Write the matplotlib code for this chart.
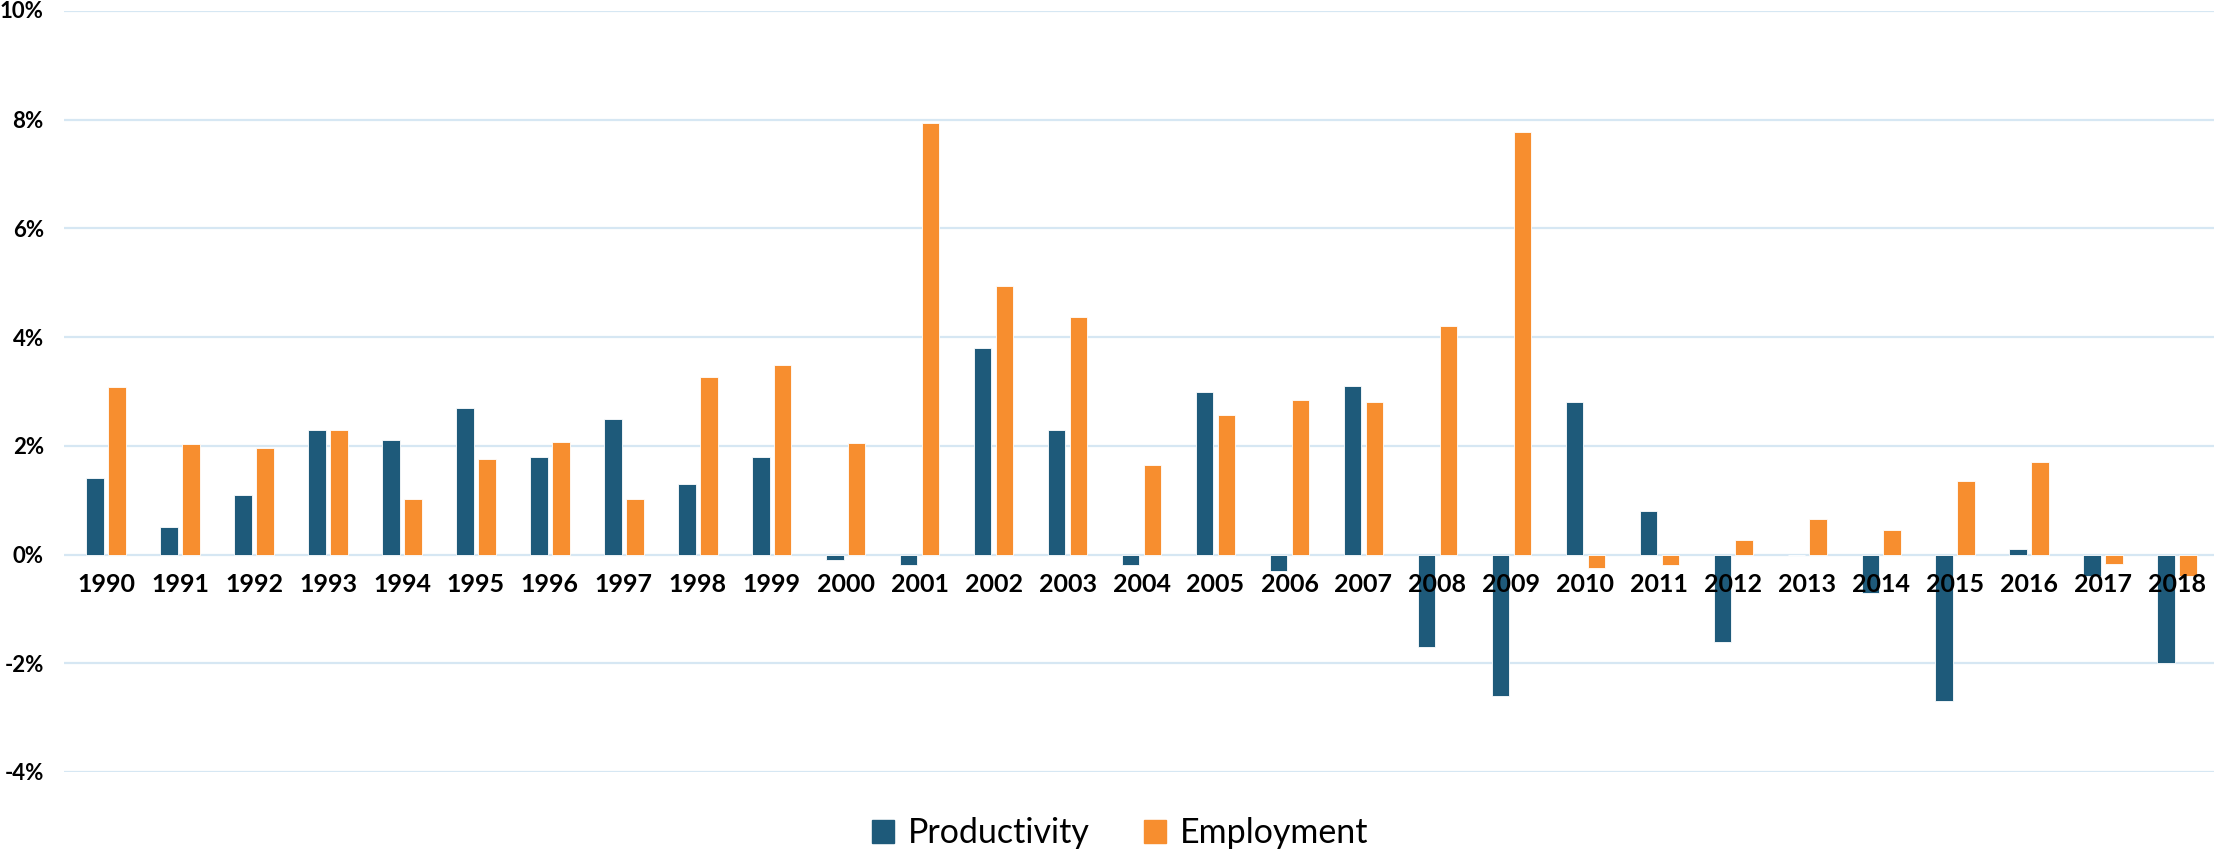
import matplotlib
matplotlib.use("Agg")
import matplotlib.pyplot as plt
import matplotlib.transforms as mtrans
import numpy as np
from matplotlib.patches import Patch

years = list(range(1990, 2019))
productivity = [1.4, 0.5, 1.1, 2.3, 2.1, 2.7, 1.8, 2.5, 1.3, 1.8,
                -0.1, -0.2, 3.8, 2.3, -0.2, 3.0, -0.3, 3.1, -1.7, -2.6,
                2.8, 0.8, -1.6, 0.0, -0.7, -2.7, 0.1, -0.4, -2.0]
employment = [3.09, 2.04, 1.96, 2.29, 1.02, 1.76, 2.07, 1.03, 3.26, 3.49,
              2.06, 7.94, 4.95, 4.37, 1.65, 2.57, 2.84, 2.80, 4.21, 7.77,
              -0.24, -0.2, 0.27, 0.66, 0.45, 1.36, 1.71, -0.18, -0.39]
yticks = [-4, -2, 0, 2, 4, 6, 8, 10]

blue = '#1e5a7a'
orange = '#f78e2f'
grid = '#d6e7f3'

plt.rcParams['font.family'] = ['Lato', 'DejaVu Sans']

fig = plt.figure(figsize=(22.14, 8.51), dpi=100)
ax = fig.add_axes([64 / 2214, 1 - 772 / 851, 1 - 64 / 2214, (772 - 11) / 851])

x = np.arange(len(years))
w = 0.236
off = 0.148
ax.bar(x - off, productivity, w, color=blue, edgecolor='white', linewidth=0.6, zorder=3)
ax.bar(x + off, employment, w, color=orange, edgecolor='white', linewidth=0.6, zorder=3)

ax.set_xlim(-0.57, 28.5)
ax.set_ylim(-4, 10)
ax.set_yticks(yticks)
ax.tick_params(axis='y', length=0)
ax.set_yticklabels([])
ax.set_xticks([])
for s in ax.spines.values():
    s.set_visible(False)
ax.yaxis.grid(True, color=grid, linewidth=1.6, zorder=0)
ax.set_axisbelow(True)

# percent labels, digits centred on their gridline (top one kept inside the figure)
ylab = mtrans.blended_transform_factory(ax.transAxes, ax.transData)
for v in yticks:
    if v == yticks[-1]:
        dy, va = 7.2, 'top'
    else:
        dy, va = 0, 'center_baseline'
    ax.annotate(f'{v}%', xy=(0, v), xycoords=ylab, xytext=(-14.5, dy), textcoords='offset points',
                ha='right', va=va, fontsize=16, fontweight='bold',
                annotation_clip=False)

# year labels sit just under the zero line, above the bars
for xi, yr in zip(x, years):
    ax.annotate(str(yr), xy=(xi, 0), xytext=(0, -21.5), textcoords='offset points',
                ha='center', va='center', fontsize=18, fontweight='bold', zorder=5)

handles = [Patch(color=blue, label='Productivity'), Patch(color=orange, label='Employment')]
fig.legend(handles=handles, loc='center', bbox_to_anchor=(0.506, 0.021), ncol=2,
           frameon=False, fontsize=24.5, handlelength=0.65, handleheight=0.65,
           handletextpad=0.4, columnspacing=1.6, borderpad=0)

fig.savefig('out.png', dpi=100)
